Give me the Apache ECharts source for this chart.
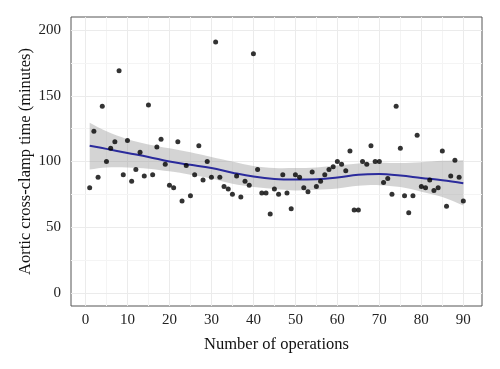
<!DOCTYPE html>
<html><head><meta charset="utf-8">
<script src="https://cdn.jsdelivr.net/npm/echarts@6/dist/echarts.min.js"></script>
<style>html,body{margin:0;padding:0;background:#fff}#c{width:500px;height:369px}</style>
</head><body><div id="c"></div>
<script>
// Observations
const ops = [1,2,3,4,5,6,7,8,9,10,11,12,13,14,15,16,17,18,19,20,21,22,23,24,25,26,27,28,29,30,31,32,33,34,35,36,37,38,39,40,41,42,43,44,45,46,47,48,49,50,51,52,53,54,55,56,57,58,59,60,61,62,63,64,65,66,67,68,69,70,71,72,73,74,75,76,77,78,79,80,81,82,83,84,85,86,87,88,89,90];
const clampTime = [80,123,88,142,100,110,115,169,90,116,85,94,107,89,143,90,111,117,98,82,80,115,70,97,74,90,112,86,100,88,191,88,81,79,75,89,73,85,82,182,94,76,76,60,79,75,90,76,64,90,88,80,77,92,81,85,90,94,96,100,98,93,108,63,63,100,98,112,100,100,84,87,75,142,110,74,61,74,120,81,80,86,78,80,108,66,89,101,88,70];
// Smooth fit and confidence band
const fitX = [1,5,10,15,20,25,30,35,40,45,50,55,60,65,70,75,80,85,90];
const fitY = [112,109.6,106.5,103.5,100,97.5,95,91.5,88.5,86.7,86.3,86.5,87.8,90,90.5,89.3,87.5,85.8,83.5];
const upperY = [129.5,123,117,113,110,107,103.5,100,96.5,95,95,95.5,97,98.5,99,98.8,99.5,100.5,101];
const lowerY = [94,95.5,95.5,94.5,92.5,90,87,83,80.5,79,78,78.5,79.5,81.5,82,80.5,77,73,66.5];
// Ticks
const xTicks = [0,10,20,30,40,50,60,70,80,90];
const xMinor = [5,15,25,35,45,55,65,75,85];
const yTicks = [0,50,100,150,200];
const yMinor = [25,75,125,175];

const FONT = '"Liberation Serif", "DejaVu Serif", serif';
const chart = echarts.init(document.getElementById('c'), null, {renderer: 'canvas'});

const MAJ = {color: '#ebebeb', width: 1, type: 'solid'};
const MIN = {color: '#f4f4f4', width: 1, type: 'solid'};
const gridLines = [];
xTicks.forEach(v => gridLines.push({xAxis: v, lineStyle: MAJ}));
xMinor.forEach(v => gridLines.push({xAxis: v, lineStyle: MIN}));
yTicks.forEach(v => gridLines.push({yAxis: v, lineStyle: MAJ}));
yMinor.forEach(v => gridLines.push({yAxis: v, lineStyle: MIN}));

function renderBand(params, api) {
  if (params.dataIndex !== 0) return null;
  const top = fitX.map((x, i) => api.coord([x, upperY[i]]));
  const bot = fitX.map((x, i) => api.coord([x, lowerY[i]])).reverse();
  const pts = [top[0]].concat(top, [top[top.length - 1]], [bot[0]], bot, [bot[bot.length - 1]]);
  return {
    type: 'polygon',
    shape: {points: pts, smooth: 0.35},
    style: {fill: 'rgba(153,153,153,0.42)', stroke: null}
  };
}

chart.setOption({
  animation: false,
  grid: {left: 71, right: 18, top: 17, bottom: 63, show: true, borderColor: '#555', borderWidth: 1, backgroundColor: 'transparent'},
  xAxis: {
    type: 'value', min: -3.45, max: 94.45,
    axisLine: {show: false},
    splitLine: {show: false},
    axisTick: {show: true, customValues: xTicks, length: 3, lineStyle: {color: '#333'}},
    axisLabel: {customValues: xTicks, fontFamily: FONT, fontSize: 15, color: '#222', margin: 7},
    name: 'Number of operations', nameLocation: 'middle', nameGap: 30,
    nameTextStyle: {fontFamily: FONT, fontSize: 16.5, color: '#111'}
  },
  yAxis: {
    type: 'value', min: -10, max: 210,
    axisLine: {show: false},
    splitLine: {show: false},
    axisTick: {show: true, customValues: yTicks, length: 3, lineStyle: {color: '#333'}},
    axisLabel: {customValues: yTicks, fontFamily: FONT, fontSize: 15, color: '#222', margin: 10},
    name: 'Aortic cross-clamp time (minutes)', nameLocation: 'middle', nameGap: 37, nameMoveOverlap: false,
    nameTextStyle: {fontFamily: FONT, fontSize: 16.5, color: '#111'}
  },
  series: [
    {type: 'line', data: [], silent: true, z: 1,
     markLine: {silent: true, z: 1, symbol: 'none', label: {show: false}, animation: false, data: gridLines}},
    {type: 'custom', data: fitX.map((x, i) => [x, lowerY[i], upperY[i]]),
     renderItem: renderBand, z: 2, silent: true, encode: {x: 0, y: [1, 2]}},
    {type: 'line', name: 'fit', data: fitX.map((x, i) => [x, fitY[i]]),
     smooth: 0.4, symbol: 'none', lineStyle: {color: '#2b2b9c', width: 2}, z: 3, silent: true},
    {type: 'scatter', data: ops.map((x, i) => [x, clampTime[i]]),
     symbolSize: 5, itemStyle: {color: '#000'}, z: 10, silent: true}
  ]
});
</script></body></html>
